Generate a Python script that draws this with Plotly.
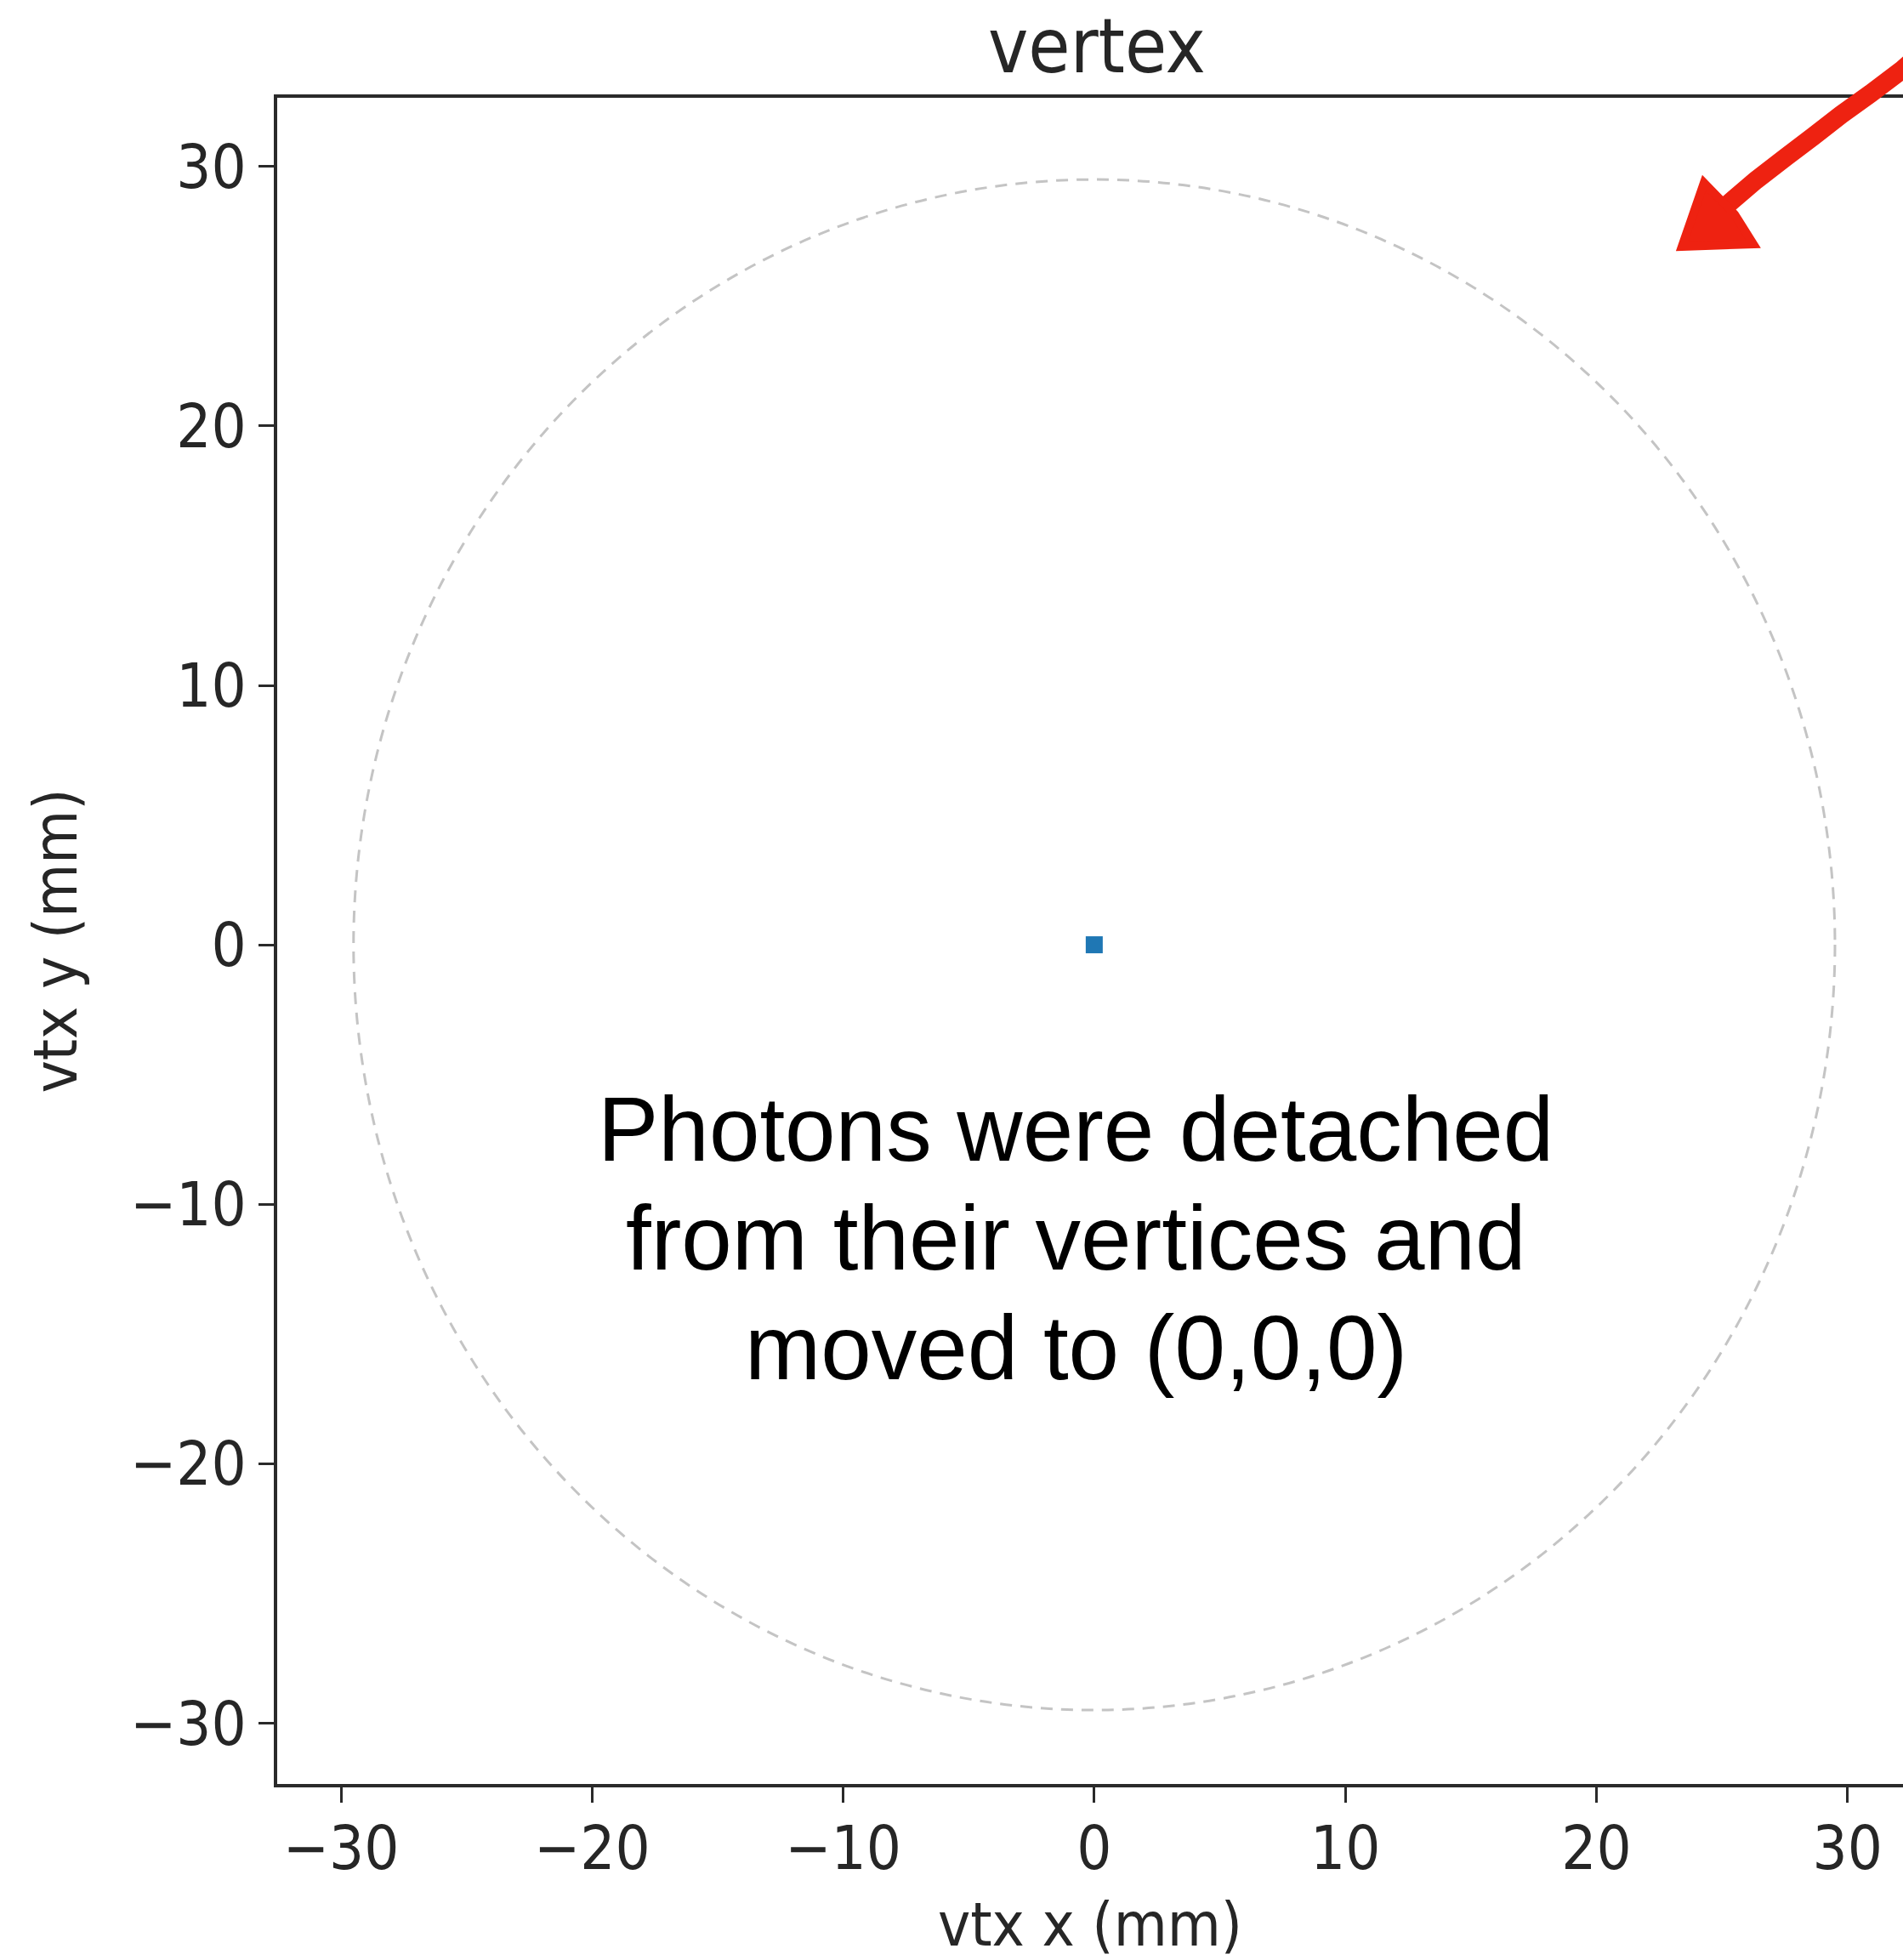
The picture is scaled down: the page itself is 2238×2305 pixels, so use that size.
import plotly.graph_objects as go

# Vertex positions of the photons (all moved to the origin)
vtx_x = [0.0]
vtx_y = [0.0]

# Reference radius drawn as a dashed circle (mm)
circle_radius = 29.5

# Axis tick values
tick_vals = [-30, -20, -10, 0, 10, 20, 30]

note_lines = [
    "Photons were detached",
    "from their vertices and",
    "moved to (0,0,0)",
]

W, H = 2238, 2305
ML, MR, MT, MB = 326, 0, 115, 207
PW, PH = W - ML - MR, H - MT - MB


def px(x, y):
    """Pixel position on the page -> paper coordinates."""
    return (x - ML) / PW, (H - MB - y) / PH


fig = go.Figure()

fig.add_trace(go.Scatter(
    x=vtx_x, y=vtx_y, mode="markers",
    marker=dict(symbol="square", size=20, color="#1f77b4", line=dict(width=0)),
    showlegend=False, hoverinfo="skip",
))

fig.add_shape(
    type="circle", xref="x", yref="y",
    x0=-circle_radius, x1=circle_radius, y0=-circle_radius, y1=circle_radius,
    line=dict(color="#c4c4c4", width=3, dash="14px,10px"),
    layer="below",
)

# Hand-drawn style red arrow in the upper right
shaft = [(2260, 62), (2237, 82), (2200, 110), (2165, 135), (2133, 160), (2100, 185), (2065, 212), (2030, 242)]
pts = [px(x, y) for x, y in shaft]
path = "M " + " L ".join(f"{a:.5f},{b:.5f}" for a, b in pts)
fig.add_shape(type="path", xref="paper", yref="paper", path=path,
              line=dict(color="#ee2211", width=22), layer="above")
head = [px(2004, 215), px(1978, 290), px(2062, 287), px(2040, 252)]
hpath = "M " + " L ".join(f"{a:.5f},{b:.5f}" for a, b in head) + " Z"
fig.add_shape(type="path", xref="paper", yref="paper", path=hpath,
              fillcolor="#ee2211", line=dict(color="#ee2211", width=10), layer="above")

line_y = [1328, 1456, 1585]
for text, yy in zip(note_lines, line_y):
    ax_, ay_ = px(1265, yy)
    fig.add_annotation(
        x=ax_, y=ay_, xref="paper", yref="paper", text=text, showarrow=False,
        xanchor="center", yanchor="middle",
        font=dict(family="Liberation Sans, Arial, Helvetica, sans-serif", size=107, color="#000000"),
    )

tick_font = dict(family="DejaVu Sans Condensed, DejaVu Sans, sans-serif", size=72, color="#262626")
label_font = dict(family="DejaVu Sans Condensed, DejaVu Sans, sans-serif", size=72, color="#262626")

fig.update_layout(
    width=W, height=H,
    margin=dict(l=ML, r=MR, t=MT, b=MB, pad=0),
    paper_bgcolor="white", plot_bgcolor="white",
    title=dict(
        text="vertex", x=px(1290, 0)[0], xref="paper", xanchor="center",
        y=1 - 54 / H, yref="container", yanchor="middle",
        font=dict(family="DejaVu Sans Condensed, DejaVu Sans, sans-serif", size=89, color="#262626"),
    ),
    xaxis=dict(
        range=[-32.54, 32.21], tickvals=tick_vals, ticks="outside", ticklen=18, tickwidth=3,
        tickcolor="#2a2a2a", showline=True, linecolor="#2a2a2a", linewidth=4, mirror=True,
        showgrid=False, zeroline=False, tickfont=tick_font, ticklabelstandoff=-8,
        title=dict(text="vtx x (mm)", font=label_font, standoff=30),
        automargin=False,
    ),
    yaxis=dict(
        range=[-32.35, 32.65], tickvals=tick_vals, ticks="outside", ticklen=18, tickwidth=3,
        tickcolor="#2a2a2a", showline=True, linecolor="#2a2a2a", linewidth=4, mirror=False,
        showgrid=False, zeroline=False, tickfont=tick_font,
        title=dict(text="vtx y (mm)", font=label_font, standoff=40),
        automargin=False,
    ),
)

fig.write_html("out.html")
